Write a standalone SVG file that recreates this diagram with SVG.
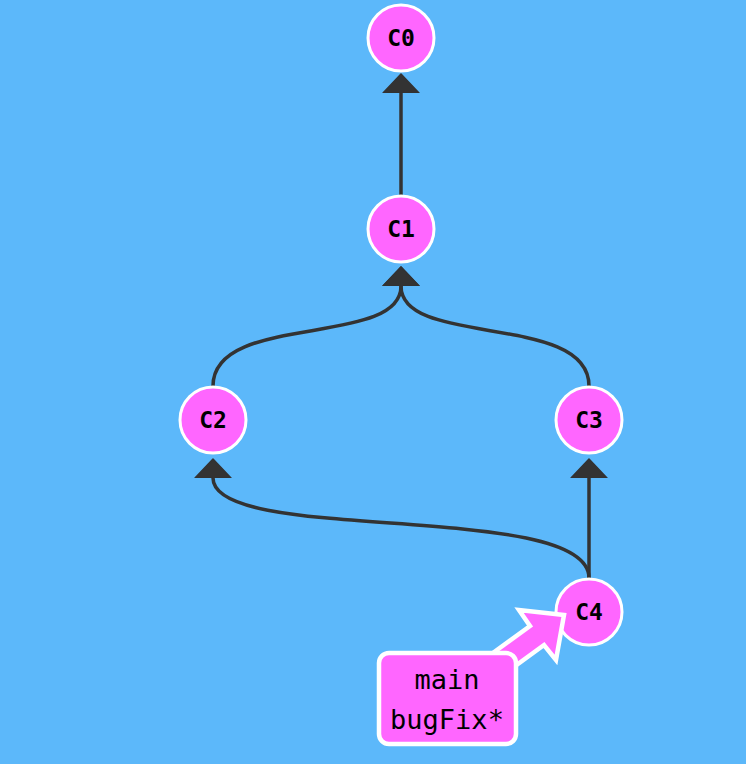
<svg xmlns="http://www.w3.org/2000/svg" width="746" height="764" viewBox="0 0 746 764">
<style>
.bg{fill:#5cb8fa}
.node circle{fill:#ff66ff;stroke:#fff;stroke-width:3}
.node text{font-family:"DejaVu Sans Mono","Liberation Mono",monospace;font-weight:bold;font-size:23px;fill:#000;text-anchor:middle;dominant-baseline:central}
.edge{fill:none;stroke:#333;stroke-width:3.5;marker-end:url(#ah)}
.label rect,.label polygon{fill:#ff66ff;stroke:#fff;stroke-width:4.5;stroke-linejoin:miter}
.label text{font-family:"DejaVu Sans Mono","Liberation Mono",monospace;font-size:27px;fill:#000;text-anchor:middle}
</style>
<defs>
<marker id="ah" viewBox="0 -19 20 38" refX="0" refY="0" markerWidth="20" markerHeight="38" markerUnits="userSpaceOnUse" orient="auto">
<path d="M0,-18 L19,0 L0,18 Z" fill="#333" stroke="#333" stroke-width="1.5" stroke-linejoin="round"/>
</marker>
</defs>
<rect class="bg" x="0" y="0" width="746" height="764"/>
<g id="connectors">
<path class="edge" d="M401,195 L401,93"/>
<path class="edge" d="M213,386 C213,312 401,348 401,286"/>
<path class="edge" d="M589,386 C589,312 401,348 401,286"/>
<path class="edge" d="M589,578 L589,478"/>
<path class="edge" d="M589,578 C589,500 213,545 213,478"/>
</g>
<g id="C0" class="node"><circle cx="401" cy="38" r="33"/><text x="401" y="38">C0</text></g>
<g id="C1" class="node"><circle cx="401" cy="229" r="33"/><text x="401" y="229">C1</text></g>
<g id="C2" class="node"><circle cx="213" cy="420" r="33"/><text x="213" y="420">C2</text></g>
<g id="C3" class="node"><circle cx="589" cy="420" r="33"/><text x="589" y="420">C3</text></g>
<g id="C4" class="node"><circle cx="589" cy="612" r="33"/><text x="589" y="612">C4</text></g>
<g id="branch" class="label">
<polygon points="475,666 530,626 519,610 564,615 556,660 544,645 489,685"/>
<rect x="379" y="653" width="137" height="91" rx="10" ry="10"/>
<text x="447" y="689">main</text>
<text x="447" y="729">bugFix*</text>
</g>
</svg>
